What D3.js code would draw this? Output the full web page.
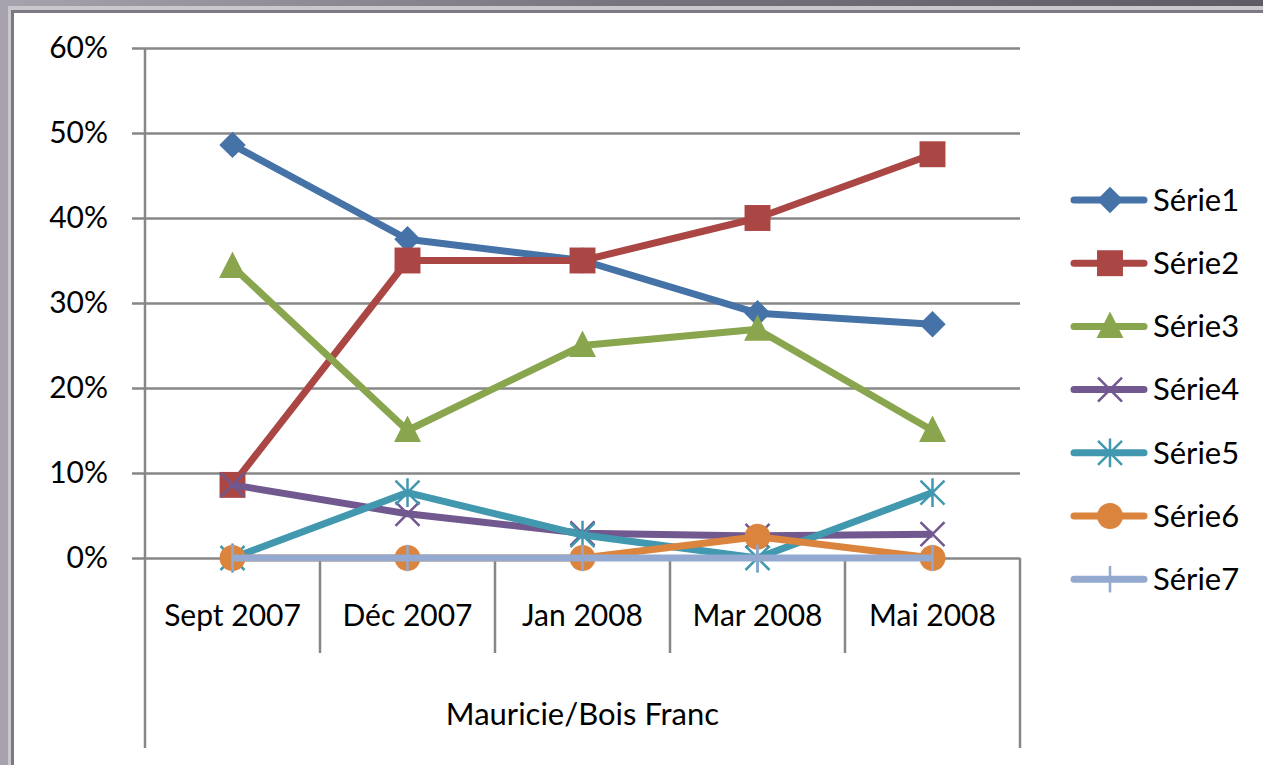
<!DOCTYPE html>
<html>
<head>
<meta charset="utf-8">
<script src="https://cdn.jsdelivr.net/npm/d3@7/dist/d3.min.js"></script>
<style>
  body { margin: 0; background: #fff; }
  svg text { font-family: Lato, "Open Sans", sans-serif; fill: #000; }
</style>
</head>
<body>
<div id="elements"></div>
<script>
// data
var categories = ["Sept 2007", "Déc 2007", "Jan 2008", "Mar 2008", "Mai 2008"];
var serie1 = [0.486, 0.375, 0.35, 0.288, 0.275];
var serie2 = [0.086, 0.35, 0.35, 0.40, 0.475];
var serie3 = [0.343, 0.15, 0.25, 0.269, 0.15];
var serie4 = [0.086, 0.052, 0.029, 0.026, 0.028];
var serie5 = [0, 0.077, 0.027, 0, 0.077];
var serie6 = [0, 0, 0, 0.025, 0];
var serie7 = [0, 0, 0, 0, 0];
var seriesNames = ["Série1", "Série2", "Série3", "Série4", "Série5", "Série6", "Série7"];
var yTicks = [0, 0.1, 0.2, 0.3, 0.4, 0.5, 0.6];
var axisTitle = "Mauricie/Bois Franc";

var colors = ["#4572A7", "#AA4643", "#89A54E", "#71588F", "#4198AF", "#DB843D", "#93A9CF"];
var markers = ["diamond", "square", "triangle", "x", "star", "circle", "plus"];
var allSeries = [serie1, serie2, serie3, serie4, serie5, serie6, serie7];

var width = 1263, height = 765;
var fontSize = "30px";

var svg = d3.select("#elements").append("svg")
    .attr("width", width)
    .attr("height", height);

// window-like frame
var defs = svg.append("defs");
var grad = defs.append("linearGradient").attr("id", "frameGrad")
    .attr("x1", "0").attr("y1", "0").attr("x2", "1").attr("y2", "0");
grad.append("stop").attr("offset", "0").attr("stop-color", "#a7a2ad");
grad.append("stop").attr("offset", "0.5").attr("stop-color", "#77737d");
grad.append("stop").attr("offset", "1").attr("stop-color", "#5f5b64");

svg.append("rect").attr("width", width).attr("height", height).attr("fill", "url(#frameGrad)");
svg.append("rect").attr("x", 8).attr("y", 6).attr("width", width).attr("height", height)
    .attr("fill", "#c9c6cc");
svg.append("rect").attr("x", 11).attr("y", 10).attr("width", width).attr("height", height)
    .attr("fill", "#7c7982");
svg.append("rect").attr("x", 14).attr("y", 13).attr("width", width).attr("height", height)
    .attr("fill", "#ffffff");

var plotLeft = 145, plotRight = 1020, plotTop = 48, plotBottom = 558;

var x = d3.scaleBand().domain(categories).range([plotLeft, plotRight]);
var y = d3.scaleLinear().domain([0, 0.6]).range([plotBottom, plotTop]);

var grid = "#878787";

// horizontal gridlines + tick marks
svg.append("g")
    .attr("transform", "translate(" + plotLeft + ",0)")
    .call(d3.axisLeft(y).tickValues(yTicks).tickFormat(d3.format(".0%"))
        .tickSize(-(plotRight - plotLeft)).tickPadding(37))
    .call(function(g) {
        g.select(".domain").remove();
        g.selectAll(".tick line").attr("stroke", grid).attr("stroke-width", 2.5).attr("x1", -13);
        g.selectAll(".tick text").attr("font-size", fontSize).attr("dy", "0.3em")
            .attr("fill", "#000")
            .style("font-family", "Lato, sans-serif");
    });

// vertical axis line, runs through the category area
svg.append("line")
    .attr("x1", plotLeft).attr("x2", plotLeft).attr("y1", plotTop).attr("y2", 748)
    .attr("stroke", grid).attr("stroke-width", 2.5);
svg.append("line")
    .attr("x1", plotRight).attr("x2", plotRight).attr("y1", plotBottom).attr("y2", 748)
    .attr("stroke", grid).attr("stroke-width", 2.5);

// category separators
svg.append("g").selectAll("line")
    .data(categories.slice(1))
    .enter().append("line")
    .attr("x1", function(d) { return x(d); })
    .attr("x2", function(d) { return x(d); })
    .attr("y1", plotBottom).attr("y2", 653)
    .attr("stroke", grid).attr("stroke-width", 2.5);

// category labels
svg.append("g").selectAll("text")
    .data(categories)
    .enter().append("text")
    .attr("x", function(d) { return x(d) + x.bandwidth() / 2; })
    .attr("y", 626)
    .attr("text-anchor", "middle")
    .attr("font-size", fontSize)
    .text(function(d) { return d; });

svg.append("text")
    .attr("x", (plotLeft + plotRight) / 2)
    .attr("y", 725)
    .attr("text-anchor", "middle")
    .attr("font-size", "31px")
    .text(axisTitle);

// marker drawing
function drawMarker(sel, type, color, s) {
    var h = s / 2;
    if (type === "diamond") {
        var d = s * 0.55;
        sel.append("path").attr("d", "M0," + -d + "L" + d + ",0L0," + d + "L" + -d + ",0Z")
            .attr("fill", color);
    } else if (type === "square") {
        var q = h * 1.08;
        sel.append("rect").attr("x", -q).attr("y", -q).attr("width", 2 * q).attr("height", 2 * q)
            .attr("fill", color);
    } else if (type === "triangle") {
        sel.append("path").attr("d", "M0," + (-s * 0.62) + "L" + (s * 0.56) + "," + (s * 0.48) + "L" + (-s * 0.56) + "," + (s * 0.48) + "Z")
            .attr("fill", color);
    } else if (type === "circle") {
        sel.append("circle").attr("r", h * 1.08).attr("fill", color);
    } else if (type === "x") {
        sel.append("path").attr("d", "M" + -h + "," + -h + "L" + h + "," + h + "M" + -h + "," + h + "L" + h + "," + -h)
            .attr("stroke", color).attr("stroke-width", 2.5).attr("fill", "none");
    } else if (type === "star") {
        sel.append("path").attr("d", "M" + -h + "," + -h + "L" + h + "," + h + "M" + -h + "," + h + "L" + h + "," + -h + "M0," + -h * 1.2 + "L0," + h * 1.2)
            .attr("stroke", color).attr("stroke-width", 2.5).attr("fill", "none");
    } else if (type === "plus") {
        sel.append("path").attr("d", "M0," + -h * 1.1 + "L0," + h * 1.1)
            .attr("stroke", color).attr("stroke-width", 2.5).attr("fill", "none");
    }
}

var line = d3.line()
    .x(function(d, i) { return x(categories[i]) + x.bandwidth() / 2; })
    .y(function(d) { return y(d); });

var plot = svg.append("g").attr("class", "series");

allSeries.forEach(function(values, k) {
    var g = plot.append("g");
    g.append("path")
        .attr("d", line(values))
        .attr("fill", "none")
        .attr("stroke", colors[k])
        .attr("stroke-width", 7)
        .attr("stroke-linejoin", "round");
    values.forEach(function(v, i) {
        var m = g.append("g")
            .attr("transform", "translate(" + (x(categories[i]) + x.bandwidth() / 2) + "," + y(v) + ")");
        drawMarker(m, markers[k], colors[k], 24);
    });
});

// legend
var legend = svg.append("g").attr("class", "legend");
seriesNames.forEach(function(name, k) {
    var ly = 200 + k * 63.2;
    var row = legend.append("g").attr("transform", "translate(0," + ly + ")");
    row.append("line").attr("x1", 1074).attr("x2", 1144).attr("y1", 0).attr("y2", 0)
        .attr("stroke", colors[k]).attr("stroke-width", 7).attr("stroke-linecap", "round");
    var m = row.append("g").attr("transform", "translate(1110,0)");
    drawMarker(m, markers[k], colors[k], 24);
    row.append("text").attr("x", 1153).attr("y", 0).attr("dy", "0.35em")
        .attr("font-size", "31px").text(name);
});
</script>
</body>
</html>
